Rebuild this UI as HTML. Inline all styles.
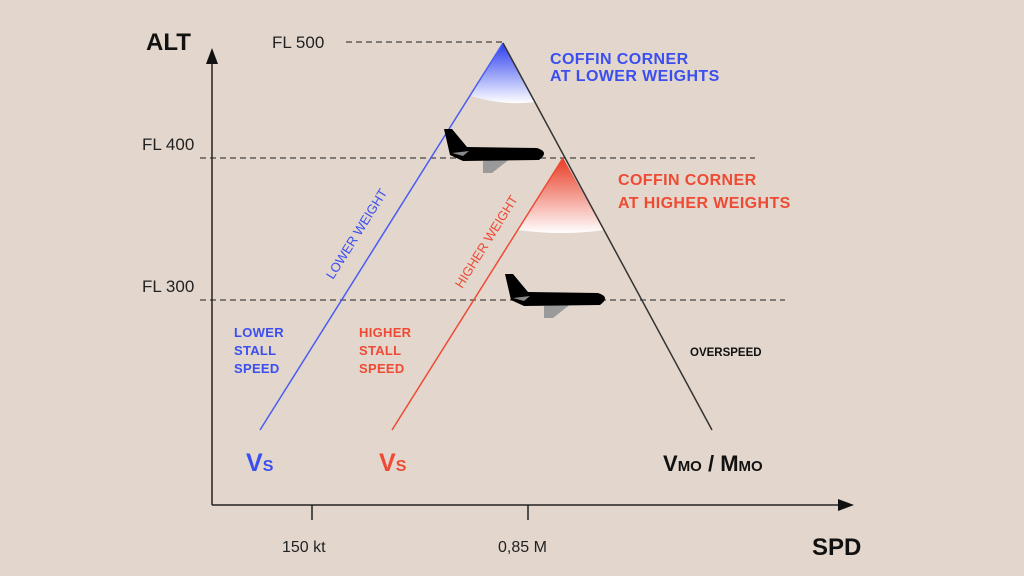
<!DOCTYPE html>
<html><head><meta charset="utf-8"><style>
body{margin:0;background:#e3d7cd;}
svg{display:block}
text{font-family:"Liberation Sans",Arial,sans-serif}
</style></head><body>
<svg width="1024" height="576" viewBox="0 0 1024 576">
<defs>
<linearGradient id="bg" x1="0" y1="0" x2="0" y2="1"><stop offset="0" stop-color="#2a3cf0"/><stop offset="1" stop-color="#fff"/></linearGradient>
<linearGradient id="rg" x1="0" y1="0" x2="0" y2="1"><stop offset="0" stop-color="#e83a22"/><stop offset="1" stop-color="#fff"/></linearGradient>
<g id="pl">
<path d="M44,39 L72,36 L53,51 L44,51 Z" fill="#9a9a9a"/>
<path d="M5,7 L13,7 L28,25 L98,26 Q111,30 100,38 L24,39 L11,33 Z" fill="#000"/>
<path d="M13,31 L30,29 L24,34 Z" fill="#888"/>
</g>
</defs>
<rect width="1024" height="576" fill="#e3d7cd"/>
<path d="M503,43 L471,96 Q503,106 535,102 Z" fill="url(#bg)"/>
<path d="M563,158 L518,230 Q563,236 604,230 Z" fill="url(#rg)"/>
<g stroke="#444" stroke-width="1.3" stroke-dasharray="6,4" fill="none">
<line x1="346" y1="42" x2="503" y2="42"/>
<line x1="200" y1="158" x2="755" y2="158"/>
<line x1="200" y1="300" x2="785" y2="300"/>
</g>
<g stroke="#222" stroke-width="1.5" fill="none">
<line x1="212" y1="505" x2="212" y2="60"/>
<line x1="212" y1="505" x2="840" y2="505"/>
<line x1="312" y1="505" x2="312" y2="520"/>
<line x1="528" y1="505" x2="528" y2="520"/>
</g>
<path d="M212,48 L206,64 L218,64 Z" fill="#111"/>
<path d="M854,505 L838,499 L838,511 Z" fill="#111"/>
<line x1="260" y1="430" x2="503" y2="43" stroke="#4a5cf5" stroke-width="1.5"/>
<line x1="392" y1="430" x2="563" y2="158" stroke="#ee4a34" stroke-width="1.5"/>
<line x1="503" y1="43" x2="712" y2="430" stroke="#333" stroke-width="1.5"/>
<use href="#pl" x="439" y="122"/>
<use href="#pl" x="500" y="267"/>
<text x="146" y="50" font-size="24" font-weight="bold" fill="#111">ALT</text>
<text x="812" y="555" font-size="24" font-weight="bold" fill="#111">SPD</text>
<text x="272" y="48" font-size="17" fill="#222">FL 500</text>
<text x="142" y="150" font-size="17" fill="#222">FL 400</text>
<text x="142" y="292" font-size="17" fill="#222">FL 300</text>
<text x="282" y="552" font-size="16" fill="#222">150 kt</text>
<text x="498" y="552" font-size="16" fill="#222">0,85 M</text>
<g font-size="16" font-weight="bold" fill="#3b4ff0" letter-spacing="0.4">
<text x="550" y="64">COFFIN CORNER</text><text x="550" y="81">AT LOWER WEIGHTS</text>
<g font-size="13" letter-spacing="0.3"><text x="234" y="337">LOWER</text><text x="234" y="355">STALL</text><text x="234" y="373">SPEED</text></g>
</g>
<g font-size="16" font-weight="bold" fill="#ee4a34" letter-spacing="0.4">
<text x="618" y="185">COFFIN CORNER</text><text x="618" y="208">AT HIGHER WEIGHTS</text>
<g font-size="13" letter-spacing="0.3"><text x="359" y="337">HIGHER</text><text x="359" y="355">STALL</text><text x="359" y="373">SPEED</text></g>
</g>
<text x="0" y="0" font-size="13" fill="#3b4ff0" transform="translate(333,280) rotate(-58)">LOWER WEIGHT</text>
<text x="0" y="0" font-size="13" fill="#ee4a34" transform="translate(462,289) rotate(-58)">HIGHER WEIGHT</text>
<text x="690" y="356" font-size="11.5" font-weight="bold" fill="#111">OVERSPEED</text>
<text x="246" y="471" font-size="25" font-weight="bold" fill="#3b4ff0">V<tspan font-size="16">S</tspan></text>
<text x="379" y="471" font-size="25" font-weight="bold" fill="#ee4a34">V<tspan font-size="16">S</tspan></text>
<text x="663" y="471" font-size="22" font-weight="bold" fill="#111">V<tspan font-size="15">MO</tspan> / M<tspan font-size="15">MO</tspan></text>
</svg>
</body></html>
